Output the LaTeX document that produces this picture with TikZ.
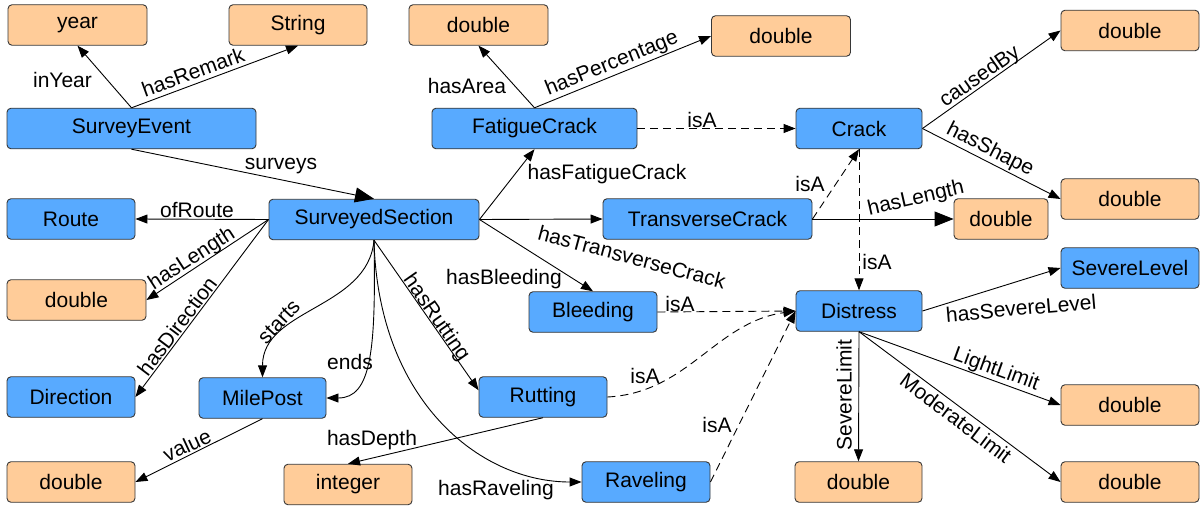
\documentclass[tikz,border=0pt]{standalone}
\usepackage{fontspec}
\setmainfont{Liberation Sans}
\usetikzlibrary{arrows.meta}
\definecolor{clsblue}{RGB}{88,170,255}
\definecolor{litorange}{RGB}{255,204,153}
\definecolor{edgegray}{RGB}{55,55,55}
\begin{document}
\begin{tikzpicture}[x=1pt,y=-1pt,
  base/.style={draw=edgegray, line width=0.9pt, rounded corners=4pt, minimum height=40.5pt, inner sep=0pt, font=\fontsize{21}{24}\selectfont},
  cls/.style={base, fill=clsblue},
  lit/.style={base, fill=litorange},
  lbl/.style={font=\fontsize{21}{24}\selectfont, inner sep=0pt},
  rel/.style={line width=0.9pt, -{Triangle[length=12pt,width=9pt]}},
  bigrel/.style={line width=0.9pt, -{Triangle[length=19pt,width=15pt]}},
  isa/.style={rel, dash pattern=on 8pt off 5pt},
]
\fill[white] (0,0) rectangle (1201,508);
\useasboundingbox (0,0) rectangle (1201,508);

% nodes
\node[lit, minimum width=139pt] (year) at (77.5,25) {year};
\node[lit, minimum width=138pt] (str) at (298,25) {String};
\node[cls, minimum width=249pt] (se) at (131.5,128.5) {SurveyEvent};
\node[cls, minimum width=128pt] (route) at (71,219) {Route};
\node[cls, minimum width=210pt] (ss) at (374,219.5) {SurveyedSection};
\node[lit, minimum width=139pt] (dlen) at (76.5,300) {double};
\node[cls, minimum width=128pt] (dir) at (71,397) {Direction};
\node[cls, minimum width=127pt] (mp) at (262.5,398) {MilePost};
\node[lit, minimum width=128pt] (dval) at (71,482) {double};
\node[lit, minimum width=128pt] (int) at (348,484.5) {integer};
\node[lit, minimum width=139pt] (darea) at (478.5,25) {double};
\node[lit, minimum width=139pt] (dperc) at (781,36) {double};
\node[cls, minimum width=205pt] (fc) at (534.5,128.5) {FatigueCrack};
\node[cls, minimum width=126pt] (crack) at (859,128.5) {Crack};
\node[lit, minimum width=138pt] (dcause) at (1130,30.5) {double};
\node[lit, minimum width=138pt] (dshape) at (1130,199) {double};
\node[lit, minimum width=94pt] (dtlen) at (1001,219) {double};
\node[cls, minimum width=209pt] (tc) at (707.5,219) {TransverseCrack};
\node[cls, minimum width=128pt] (bl) at (593,312) {Bleeding};
\node[cls, minimum width=126pt] (dis) at (859,311) {Distress};
\node[cls, minimum width=138pt] (sl) at (1130,268) {SevereLevel};
\node[cls, minimum width=128pt] (rut) at (543,397) {Rutting};
\node[cls, minimum width=128pt] (rav) at (646,482) {Raveling};
\node[lit, minimum width=138pt] (dlight) at (1130,405) {double};
\node[lit, minimum width=138pt] (dmod) at (1130,482) {double};
\node[lit, minimum width=127pt] (dsev) at (858.5,482) {double};

% edges
\draw[rel] (se.north) -- (year.south);
\draw[rel] (se.north) -- (str.south);
\draw[bigrel] (se.south) -- (ss.north);
\draw[rel] (ss.west) -- (route.east);
\draw[rel] (ss.west) -- (dlen.east);
\draw[rel] (ss.west) -- (dir.east);
\draw[rel] (ss.south) to[out=-95,in=90] (mp.north);
\draw[rel] (ss.south) .. controls +(2,110) and +(45,0) .. (mp.east);
\draw[rel] (ss.south) .. controls +(4,160) and +(-102,0) .. (rav.west);
\draw[rel] (ss.south) -- (rut.174);
\draw[rel] (ss.east) -- (fc.south);
\draw[rel] (ss.east) -- (tc.west);
\draw[rel] (ss.east) -- (bl.north);
\draw[rel] (fc.north) -- (darea.south);
\draw[rel] (fc.north) -- (dperc.west);
\draw[isa] (fc.east) -- (crack.west);
\draw[isa] (tc.east) -- (crack.south);
\draw[bigrel] (tc.east) -- (dtlen.west);
\draw[isa] (crack.south) -- (dis.north);
\draw[rel] (crack.east) -- (dcause.west);
\draw[rel] (crack.east) -- (dshape.west);
\draw[isa] (bl.east) -- (dis.west);
\draw[isa] (rut.east) to[out=3,in=188] (dis.west);
\draw[isa] (rav.east) -- (dis.west);
\draw[rel] (dis.east) -- (sl.west);
\draw[rel] (dis.south) -- (dsev.north);
\draw[rel] (dis.south) -- (dlight.west);
\draw[rel] (dis.south) -- (dmod.west);
\draw[rel] (mp.south) -- (dval.east);
\draw[rel] (rut.south) -- (int.north);

% labels
\node[lbl] (l1) at (62.5,80) {inYear};
\node[lbl, rotate=20] (l2) at (193,72) {hasRemark};
\node[lbl] (l3) at (281,166) {surveys};
\node[lbl] (l4) at (197,210) {ofRoute};
\node[lbl, rotate=33] (l5) at (192,259) {hasLength};
\node[lbl, rotate=53] (l6) at (177,326) {hasDirection};
\node[lbl, rotate=47] (l7) at (279,322) {starts};
\node[lbl] (l8) at (350,362) {ends};
\node[lbl, rotate=-55] (l9) at (436,318) {hasRutting};
\node[lbl] (l10) at (504,279) {hasBleeding};
\node[lbl] (l11) at (607,174) {hasFatigueCrack};
\node[lbl, rotate=-15] (l12) at (632,257) {hasTransverseCrack};
\node[lbl] (l13) at (467,86) {hasArea};
\node[lbl, rotate=22] (l14) at (612,64) {hasPercentage};
\node[lbl] (l15) at (702,120) {isA};
\node[lbl] (l16) at (810,184) {isA};
\node[lbl, rotate=13] (l17) at (916,199) {hasLength};
\node[lbl] (l18) at (877,262) {isA};
\node[lbl, rotate=35] (l19) at (980,77) {causedBy};
\node[lbl, rotate=-27] (l20) at (990,150) {hasShape};
\node[lbl] (l21) at (680,304) {isA};
\node[lbl] (l22) at (645,376) {isA};
\node[lbl] (l23) at (717,425) {isA};
\node[lbl, rotate=5] (l24) at (1021,308) {hasSevereLevel};
\node[lbl, rotate=90] (l25) at (844,395) {SevereLimit};
\node[lbl, rotate=-20] (l26) at (996,370) {LightLimit};
\node[lbl, rotate=-37] (l27) at (956,418) {ModerateLimit};
\node[lbl, rotate=25] (l28) at (187,445) {value};
\node[lbl] (l29) at (372,440) {hasDepth};
\node[lbl] (l30) at (496,490) {hasRaveling};
\end{tikzpicture}
\end{document}
